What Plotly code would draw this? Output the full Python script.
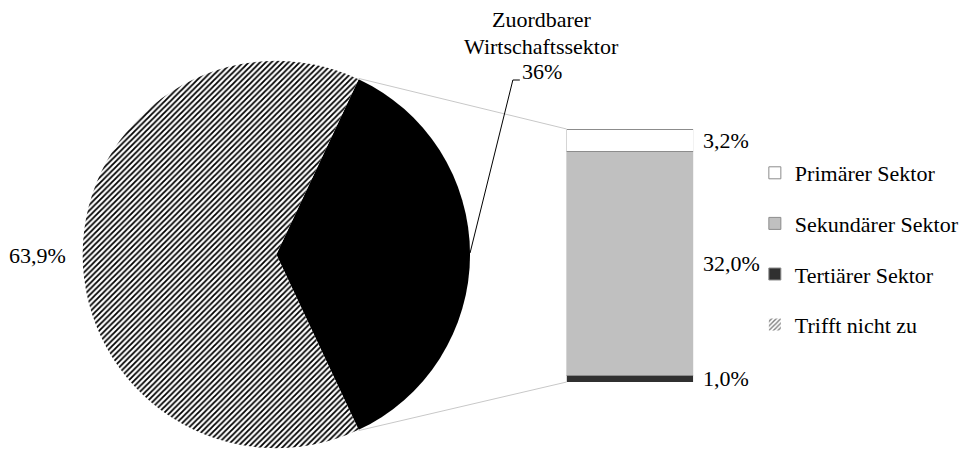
import math
import plotly.graph_objects as go

# ---- data ----
pie_labels = ["Zuordbarer Wirtschaftssektor", "Trifft nicht zu"]
pie_values = [36.0, 63.9]
pie_value_labels = ["36%", "63,9%"]

bar_labels = ["Tertiärer Sektor", "Sekundärer Sektor", "Primärer Sektor"]  # bottom -> top
bar_values = [1.0, 32.0, 3.2]
bar_colors = ["#303030", "#c0c0c0", "#ffffff"]
legend_rank = [3, 2, 1]

W, H = 964, 450
FONT = "Liberation Serif"
FS = 22


def px(x):
    return x / W


def py(y):
    return 1 - y / H


# pie geometry (pixels)
pie_cx, pie_cy, pie_r = 277.5, 254.5, 194.5
# bar geometry (pixels)
bar_left, bar_right, bar_top, bar_bottom = 569, 696, 129, 382

total = sum(pie_values)
half_ang = 360 * pie_values[0] / total / 2.0
rotation = 90 - half_ang

fig = go.Figure()

fig.add_trace(go.Pie(
    labels=pie_labels,
    values=pie_values,
    sort=False,
    direction="clockwise",
    rotation=rotation,
    textinfo="none",
    showlegend=False,
    hoverinfo="label+value",
    marker=dict(
        colors=["#000000", "#ffffff"],
        line=dict(width=0),
        pattern=dict(shape=["", "/"], fgcolor=["#000000", "#000000"],
                     bgcolor=["#000000", "#ffffff"], size=4, solidity=0.45),
    ),
    domain=dict(x=[px(pie_cx - pie_r), px(pie_cx + pie_r)],
                y=[py(pie_cy + pie_r), py(pie_cy - pie_r)]),
))

for lab, val, col, rk in zip(bar_labels, bar_values, bar_colors, legend_rank):
    fig.add_trace(go.Bar(
        x=[0], y=[val], name=lab, width=1,
        marker=dict(color=col, line=dict(color="#8c8c8c", width=1)),
        legendrank=rk, legendgroup=lab,
        xaxis="x", yaxis="y",
    ))

# legend entry for the hatched pie slice
fig.add_trace(go.Bar(
    x=[0], y=[None], name=pie_labels[1], width=1,
    marker=dict(color="#ffffff", line=dict(width=0),
                pattern=dict(shape="/", fgcolor="#000000", bgcolor="#ffffff",
                             size=4, solidity=0.45)),
    legendrank=4, legendgroup=pie_labels[1],
    xaxis="x", yaxis="y",
))

bar_total = sum(bar_values)

annotations = []
# bar value labels
cum = 0
for val in bar_values:
    annotations.append(dict(
        x=0.5, y=cum + val / 2, xref="x", yref="y",
        text=f"{val:.1f}".replace(".", ",") + "%",
        showarrow=False, xanchor="left", yanchor="middle", xshift=8,
        font=dict(family=FONT, size=FS, color="#000000"),
    ))
    cum += val

# pie labels
annotations.append(dict(
    x=px(68), y=py(255), xref="paper", yref="paper",
    text=pie_value_labels[1], showarrow=False, xanchor="right", yanchor="middle",
    font=dict(family=FONT, size=FS, color="#000000"),
))
for txt, yy in [("Zuordbarer", 20), ("Wirtschaftssektor", 46), (pie_value_labels[0], 71)]:
    annotations.append(dict(
        x=px(544), y=py(yy), xref="paper", yref="paper",
        text=txt, showarrow=False, xanchor="center", yanchor="middle",
        font=dict(family=FONT, size=FS, color="#000000"),
    ))

shapes = []
# connector lines from pie slice edges to bar corners
a = math.radians(half_ang)
top_pt = (pie_cx + pie_r * math.cos(a), pie_cy - pie_r * math.sin(a))
bot_pt = (pie_cx + pie_r * math.cos(a), pie_cy + pie_r * math.sin(a))
for (x0, y0), (x1, y1) in [(top_pt, (bar_left, bar_top)), (bot_pt, (bar_left, bar_bottom))]:
    shapes.append(dict(type="line", xref="paper", yref="paper",
                       x0=px(x0), y0=py(y0), x1=px(x1), y1=py(y1),
                       line=dict(color="#c8c8c8", width=1)))
# leader line for "Zuordbarer Wirtschaftssektor"
shapes.append(dict(type="path", xref="paper", yref="paper",
                   path=f"M {px(472)} {py(253)} L {px(515)} {py(80)} L {px(522)} {py(80)}",
                   line=dict(color="#000000", width=1)))

fig.update_layout(
    width=W, height=H,
    margin=dict(l=0, r=0, t=0, b=0),
    paper_bgcolor="white", plot_bgcolor="white",
    barmode="stack",
    showlegend=True,
    legend=dict(x=px(758), y=py(152), xanchor="left", yanchor="top",
                font=dict(family=FONT, size=FS, color="#000000"),
                bgcolor="rgba(0,0,0,0)", borderwidth=0,
                tracegroupgap=19, traceorder="grouped"),
    xaxis=dict(domain=[px(bar_left), px(bar_right)], range=[-0.5, 0.5], visible=False,
               fixedrange=True),
    yaxis=dict(domain=[py(bar_bottom), py(bar_top)], range=[0, bar_total], visible=False,
               fixedrange=True),
    annotations=annotations,
    shapes=shapes,
    font=dict(family=FONT),
)

fig.write_html("out.html", config={"displayModeBar": False},
               post_script="document.body.style.margin='0';")
